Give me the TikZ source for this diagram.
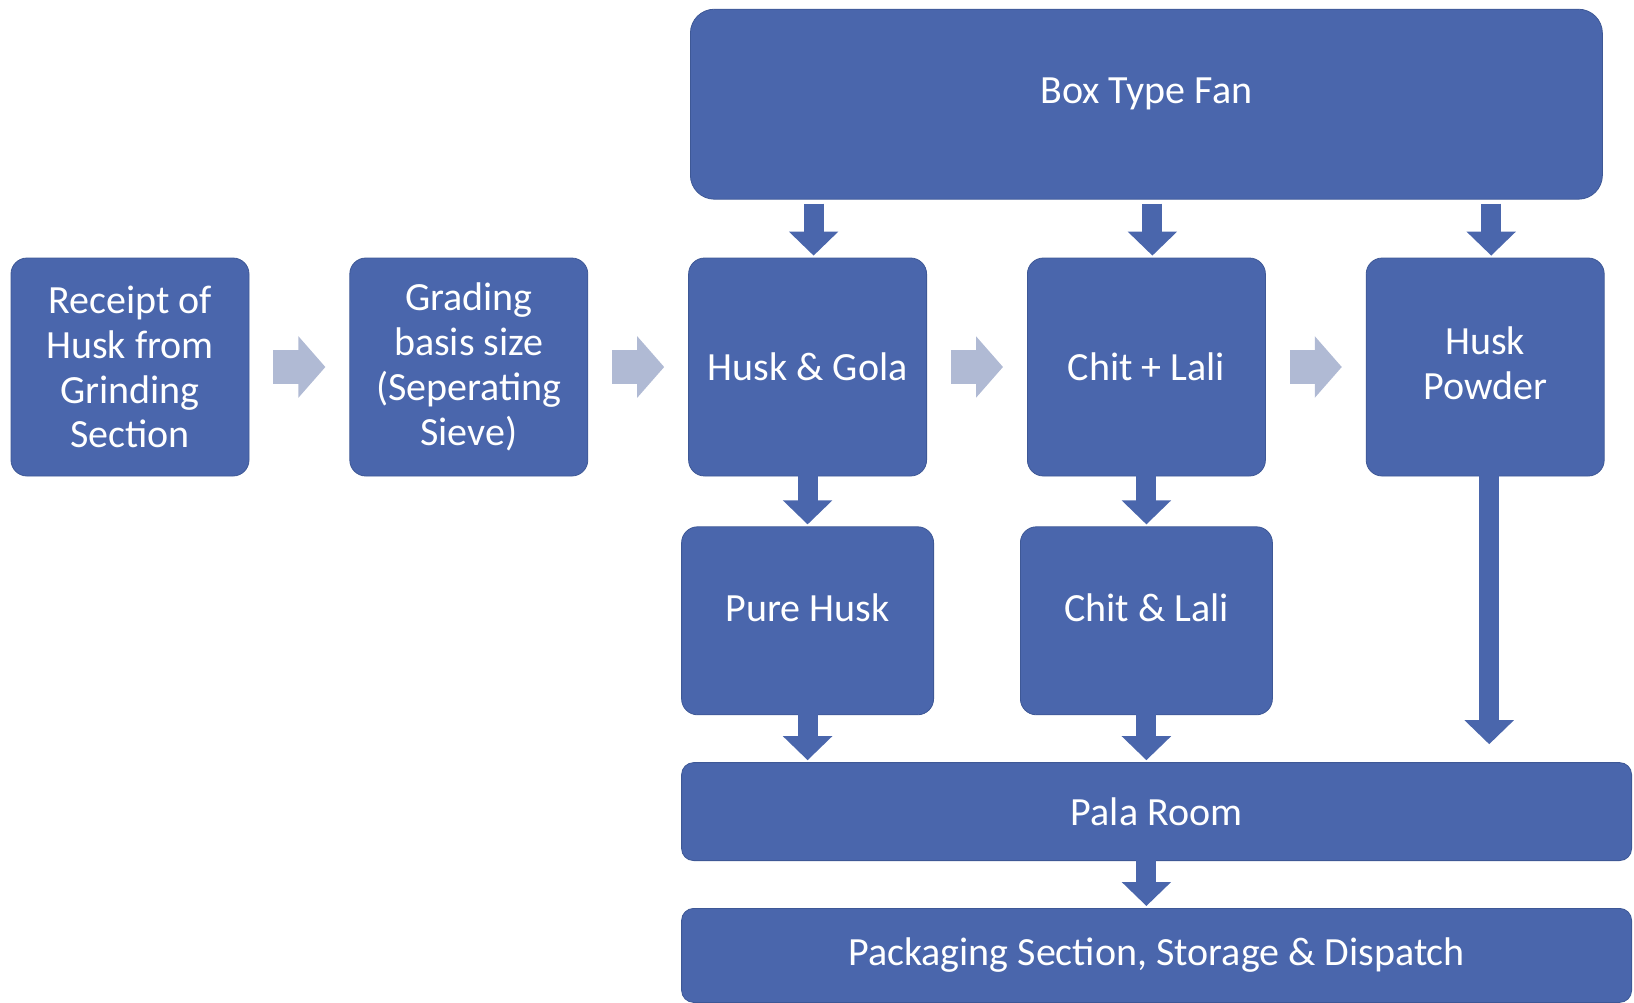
\documentclass[tikz,border=0pt]{standalone}
\usepackage{fontspec}
\setmainfont{Carlito}
\usepackage{tikz}
\usetikzlibrary{positioning}
\usetikzlibrary{arrows.meta, shapes}

\definecolor{boxblue}{HTML}{4A66AC}
\definecolor{boxline}{HTML}{3E5896}
\definecolor{flowgrey}{HTML}{B0BAD4}

\begin{document}
\begin{tikzpicture}[>=latex, font=\fontsize{20}{22.4}\selectfont, every node/.style={transform shape}]%

            \tikzstyle{stage} = [ rectangle, rounded corners = 8pt, thin, draw = boxline, fill = boxblue, text = white, align = center, inner sep = 0pt]
            \tikzstyle{row} = [ stage, minimum width = 119pt, minimum height = 109pt]
            \tikzstyle{sub} = [ stage, minimum width = 126pt, minimum height = 94pt, text depth = 13.5pt]
            \tikzstyle{wide} = [ stage, rounded corners = 6pt, minimum width = 475pt, minimum height = 49pt]
            \tikzstyle{flow} = [ line width = 17pt, draw = flowgrey, -{Triangle[width = 30pt, length = 13.5pt]}, shorten <= 12pt, shorten >= 12pt]
            \tikzstyle{feed} = [ line width = 10pt, draw = boxblue, -{Triangle[width = 24pt, length = 12pt]}, shorten <= 2pt, shorten >= 1pt]
            \tikzstyle{drop} = [ feed, shorten <= -1pt]
        %%
            \useasboundingbox (0,0) rectangle (817pt,-501pt);
            \begin{scope}[node distance = 50pt and 50pt]%
                %% Main line
                \node [row] (receipt) at (65pt,-183.5pt) {Receipt of\\Husk from\\Grinding\\Section};
                \node [row] (grading) [ right = of receipt] {Grading\\basis size\\(Seperating\\Sieve)};
                \node [row] (gola) [ right = of grading] {Husk \& Gola};
                \node [row] (chit) [ right = of gola] {Chit + Lali};
                \node [row, text depth = 4pt] (powder) [ right = of chit] {Husk\\Powder};

                \draw[flow] (receipt) -- (grading);
                \draw[flow] (grading) -- (gola);
                \draw[flow] (gola) -- (chit);
                \draw[flow] (chit) -- (powder);

                %% Fan
                \node [stage, rounded corners = 12pt, minimum width = 456pt, minimum height = 95pt, text depth = 13.5pt] (fan) [ above = 29pt of chit] {Box Type Fan};

                \draw[feed] ([xshift = 3pt]gola.north |- fan.south) -- ([xshift = 3pt]gola.north);
                \draw[feed] ([xshift = 3pt]chit.north |- fan.south) -- ([xshift = 3pt]chit.north);
                \draw[feed] ([xshift = 3pt]powder.north |- fan.south) -- ([xshift = 3pt]powder.north);

                %% Separated
                \node [sub] (pure) [ below = 25pt of gola] {Pure Husk};
                \node [sub] (lali) [ below = 25pt of chit] {Chit \& Lali};

                \draw[drop] (gola) -- (pure);
                \draw[drop] (chit) -- (lali);

                %% Rooms
                \node [wide, anchor = north west] (pala) at ([yshift = -23.5pt]pure.south west) {Pala Room};
                \node [wide, minimum height = 47pt] (pack) [ below = 23.5pt of pala] {Packaging Section, Storage \& Dispatch};

                \draw[drop] (pure) -- (pure |- pala.north);
                \draw[drop] (lali) -- (lali |- pala.north);
                \draw[drop, shorten >= 9pt] ([xshift = 2pt]powder.south) -- ([xshift = 2pt]powder.south |- pala.north);
                \draw[drop] (pala.south -| lali) -- (pack.north -| lali);

            \end{scope}%
        \end{tikzpicture}
\end{document}
